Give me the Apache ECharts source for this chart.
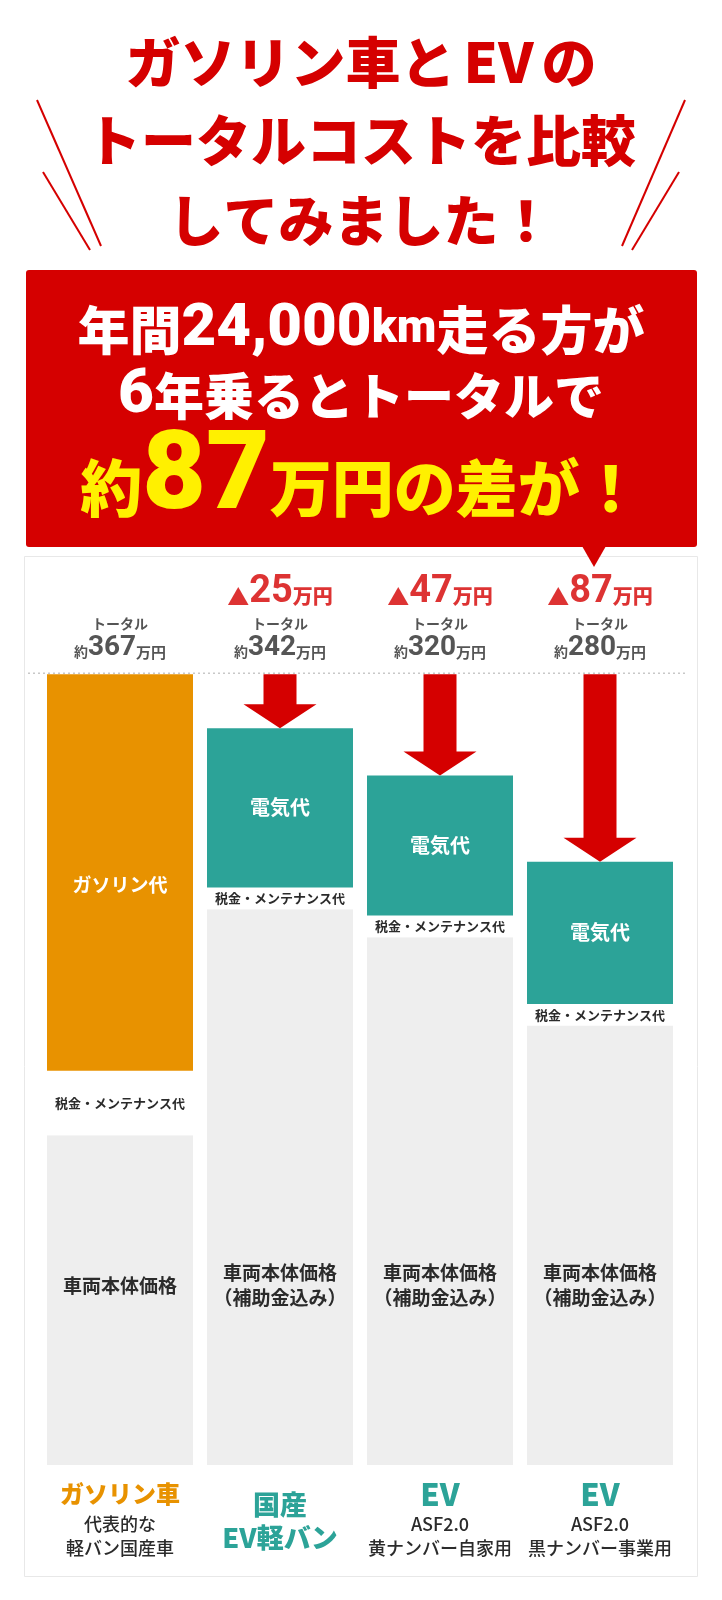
<!DOCTYPE html>
<html><head><meta charset="utf-8">
<script src="https://cdn.jsdelivr.net/npm/echarts@6/dist/echarts.min.js"></script>
<style>html,body{margin:0;padding:0;background:#fff}#c{width:722px;height:1600px}</style>
</head><body><div id="c"></div>
<script>
// ---- data ----
const categories = ['ガソリン車', '国産EV軽バン', 'EV ASF2.0 黄ナンバー自家用', 'EV ASF2.0 黒ナンバー事業用'];
const catTitle = ['ガソリン車', '国産\nEV軽バン', 'EV', 'EV'];
const catSub = ['代表的な\n軽バン国産車', '', 'ASF2.0\n黄ナンバー自家用', 'ASF2.0\n黒ナンバー事業用'];
const bodyPrice = [153, 258, 245, 204];
const taxMaint = [30, 10, 10, 10];
const gasoline = [184, '-', '-', '-'];
const electricity = ['-', 74, 65, 66];
const totals = [367, 342, 320, 280];
const savings = [null, 25, 47, 87];
const bodyLabels = ['車両本体価格', '車両本体価格\n（補助金込み）', '車両本体価格\n（補助金込み）', '車両本体価格\n（補助金込み）'];

// ---- styles ----
const RED = '#d50000', ORANGE = '#e89200', TEAL = '#2ca398', INK = '#2b2b2b', GRAY = '#eeeeee', YELLOW = '#fff000';
const JP = "'Noto Sans CJK JP', 'Noto Sans', sans-serif";
const NUM = "Roboto, 'Noto Sans CJK JP', sans-serif";
const catStyle = ['gas', 'evk', 'ev', 'ev'];
const maxTotal = Math.max(...totals);

const chart = echarts.init(document.getElementById('c'), null, { renderer: 'canvas' });

function topLabel(i) {
  const lines = [];
  if (savings[i] != null) lines.push(`{rA|▲}{rN|${savings[i]}}{rU|万円}`);
  lines.push('{t|トータル}');
  lines.push(`{p|約}{n|${totals[i]}}{u|万円}`);
  return lines.join('\n');
}

const option = {
  animation: false,
  backgroundColor: '#fff',
  grid: { left: 40, right: 42, top: 674.3, bottom: 135 },
  xAxis: {
    type: 'category', data: categories,
    axisLine: { show: false }, axisTick: { show: false },
    axisLabel: {
      interval: 0, margin: 11,
      formatter: (v, i) => {
        const st = catStyle[i];
        const t = catTitle[i].split('\n').map(s => `{${st}|${s}}`);
        const sub = catSub[i] ? catSub[i].split('\n').map(s => `{s|${s}}`) : [];
        const pre = st === 'evk' ? ['{sp| }'] : [];
        return pre.concat(t, sub).join('\n');
      },
      rich: {
        gas: { fontSize: 24, fontWeight: 900, color: ORANGE, lineHeight: 36, fontFamily: JP },
        evk: { fontSize: 27, fontWeight: 900, color: TEAL, lineHeight: 33, fontFamily: JP },
        ev: { fontSize: 31, fontWeight: 900, color: TEAL, lineHeight: 36, fontFamily: JP },
        s: { fontSize: 18, fontWeight: 500, color: INK, lineHeight: 24, fontFamily: JP },
        sp: { fontSize: 1, lineHeight: 12 }
      }
    }
  },
  yAxis: { type: 'value', min: 0, max: maxTotal, show: false },
  series: [
    {
      name: '車両本体価格', type: 'bar', stack: 'cost', barWidth: 146,
      itemStyle: { color: GRAY },
      label: { show: true, position: 'insideBottom', fontSize: 19, fontWeight: 'bold', color: INK, lineHeight: 25, fontFamily: JP },
      data: bodyPrice.map((v, i) => ({ value: v, label: { formatter: bodyLabels[i], distance: i === 0 ? 167 : 155 } }))
    },
    {
      name: '税金・メンテナンス代', type: 'bar', stack: 'cost',
      itemStyle: { color: '#ffffff' },
      label: { show: true, position: 'inside', formatter: '税金・メンテナンス代', fontSize: 13, fontWeight: 'bold', color: INK, fontFamily: JP },
      data: taxMaint
    },
    {
      name: 'ガソリン代', type: 'bar', stack: 'cost',
      itemStyle: { color: ORANGE },
      label: { show: true, position: 'inside', offset: [0, 12], formatter: 'ガソリン代', fontSize: 19, fontWeight: 'bold', color: '#fff', fontFamily: JP },
      data: gasoline
    },
    {
      name: '電気代', type: 'bar', stack: 'cost',
      itemStyle: { color: TEAL },
      label: { show: true, position: 'inside', formatter: '電気代', fontSize: 20, fontWeight: 'bold', color: '#fff', fontFamily: JP },
      data: electricity
    },
    {
      name: '差額', type: 'custom', z: 5, silent: true,
      encode: { x: 0, y: 1 },
      data: totals.map((t, i) => [i, t]).filter((d, i) => savings[i] != null),
      renderItem: (params, api) => {
        const idx = api.value(0), total = api.value(1);
        const top = api.coord([idx, maxTotal]);
        const tip = api.coord([idx, total]);
        const cx = top[0], sw = 16.5, hw = 36.5, hh = 24;
        const y0 = top[1], y1 = tip[1];
        return {
          type: 'polygon',
          shape: { points: [[cx - sw, y0], [cx + sw, y0], [cx + sw, y1 - hh], [cx + hw, y1 - hh], [cx, y1], [cx - hw, y1 - hh], [cx - sw, y1 - hh]] },
          style: { fill: RED }
        };
      }
    },
    {
      name: 'トータル', type: 'scatter', z: 6, silent: true,
      symbolSize: 1, itemStyle: { color: 'rgba(0,0,0,0)' },
      data: totals.map((t, i) => [i, maxTotal]),
      label: {
        show: true, position: 'top', distance: 13,
        formatter: p => topLabel(p.dataIndex),
        rich: {
          rA: { fontSize: 22, color: RED, fontFamily: JP, verticalAlign: 'bottom', height: 33 },
          rN: { fontSize: 38, color: RED, fontFamily: NUM, fontWeight: 700, lineHeight: 40 },
          rU: { fontSize: 20, color: RED, fontFamily: JP, fontWeight: 900, verticalAlign: 'bottom', height: 32 },
          t: { fontSize: 14, color: INK, fontFamily: JP, fontWeight: 'bold', lineHeight: 22 },
          p: { fontSize: 14, color: INK, fontFamily: JP, fontWeight: 'bold', verticalAlign: 'bottom', height: 18 },
          n: { fontSize: 28, color: INK, fontFamily: NUM, fontWeight: 700, lineHeight: 26 },
          u: { fontSize: 15, color: INK, fontFamily: JP, fontWeight: 'bold', verticalAlign: 'bottom', height: 18 }
        }
      }
    }
  ],
  graphic: [
    { id: 'panel', type: 'rect', z: 0, shape: { x: 24.5, y: 556.5, width: 673, height: 1020 }, style: { fill: '#fff', stroke: '#e8e8e8', lineWidth: 1 } },
    { id: 'sl1', type: 'line', shape: { x1: 37, y1: 100, x2: 101, y2: 246 }, style: { stroke: RED, lineWidth: 2 } },
    { id: 'sl2', type: 'line', shape: { x1: 43, y1: 172, x2: 90, y2: 250 }, style: { stroke: RED, lineWidth: 2 } },
    { id: 'sr1', type: 'line', shape: { x1: 685, y1: 100, x2: 622, y2: 246 }, style: { stroke: RED, lineWidth: 2 } },
    { id: 'sr2', type: 'line', shape: { x1: 679, y1: 172, x2: 632, y2: 250 }, style: { stroke: RED, lineWidth: 2 } },
    { id: 'ttl1', type: 'text', style: { x: 361, y: 62, align: 'center', verticalAlign: 'middle',
        text: '{a|ガソリン車と}{e|EV}{a|の}',
        rich: { a: { fontSize: 55, fontWeight: 900, fill: RED, fontFamily: JP }, e: { fontSize: 55, fontWeight: 900, fill: RED, fontFamily: JP, padding: [0, 8, 0, 8] } } } },
    { id: 'ttl2', type: 'text', style: { x: 361, y: 140, align: 'center', verticalAlign: 'middle', text: 'トータルコストを比較', fontSize: 55, fontWeight: 900, fill: RED, fontFamily: JP } },
    { id: 'ttl3', type: 'text', style: { x: 361, y: 220, align: 'center', verticalAlign: 'middle', text: 'してみました！', fontSize: 55, fontWeight: 900, fill: RED, fontFamily: JP } },
    { id: 'box', type: 'rect', shape: { x: 26, y: 270, width: 671, height: 277, r: 3 }, style: { fill: RED } },
    { id: 'ptr', type: 'polygon', shape: { points: [[582, 546], [606, 546], [594, 567]] }, style: { fill: RED } },
    { id: 'b1', type: 'text', style: { x: 361, y: 330, align: 'center', verticalAlign: 'middle',
        text: '{k|年間}{n|24,000}{u|km}{k|走る方が}',
        rich: {
          k: { fontSize: 52, fontWeight: 900, fill: '#fff', fontFamily: JP },
          n: { fontSize: 60, fontWeight: 900, fill: '#fff', fontFamily: NUM },
          u: { fontSize: 46, fontWeight: 900, fill: '#fff', fontFamily: NUM }
        } } },
    { id: 'b2', type: 'text', style: { x: 361, y: 396, align: 'center', verticalAlign: 'middle',
        text: '{n|6}{k|年乗るとトータルで}',
        rich: {
          k: { fontSize: 50, fontWeight: 900, fill: '#fff', fontFamily: JP },
          n: { fontSize: 62, fontWeight: 900, fill: '#fff', fontFamily: NUM }
        } } },
    { id: 'b3', type: 'text', style: { x: 361, y: 480, align: 'center', verticalAlign: 'middle',
        text: '{k|約}{n|87}{k|万円の差が！}',
        rich: {
          k: { fontSize: 62, fontWeight: 900, fill: YELLOW, fontFamily: JP, verticalAlign: 'bottom', height: 94 },
          n: { fontSize: 110, fontWeight: 900, fill: YELLOW, fontFamily: NUM, lineHeight: 110 }
        } } }
  ]
};

chart.setOption(option);
const yTop = chart.convertToPixel({ yAxisIndex: 0 }, maxTotal);
chart.setOption({ graphic: [{ id: 'dots', type: 'line', z: 1, shape: { x1: 28, y1: yTop - 1, x2: 688, y2: yTop - 1 }, style: { stroke: '#c8c8c8', lineWidth: 1.5, lineDash: [2, 3] } }] });
</script>
</body></html>
